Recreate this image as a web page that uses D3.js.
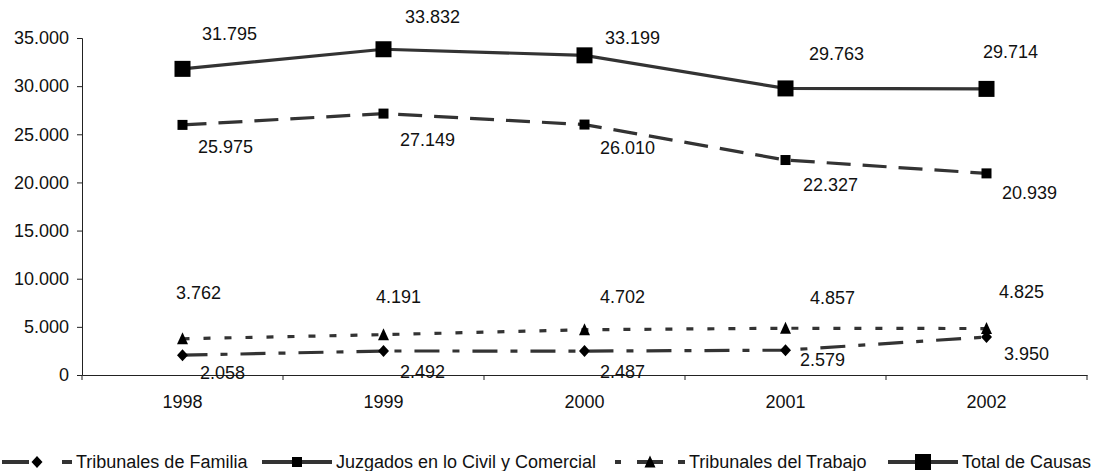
<!DOCTYPE html>
<html><head><meta charset="utf-8">
<script src="https://cdn.jsdelivr.net/npm/d3@7"></script>
<style>body{margin:0;background:#fff}svg{display:block;font-family:"Liberation Sans",Arial,sans-serif}</style>
</head><body><svg id="c" width="1094" height="471"></svg>
<script>
// ---- data ----
const years = ["1998","1999","2000","2001","2002"];
const familia   = [2058, 2492, 2487, 2579, 3950];
const juzgados  = [25975, 27149, 26010, 22327, 20939];
const trabajo   = [3762, 4191, 4702, 4857, 4825];
const total     = [31795, 33832, 33199, 29763, 29714];
const seriesNames = ["Tribunales de Familia","Juzgados en lo Civil y Comercial","Tribunales del Trabajo","Total de Causas"];
const yTicks = [0,5000,10000,15000,20000,25000,30000,35000];

// ---- styling ----
const styles = [
  {values: familia,  dash:"25,13,7,13", marker:"diamond", size:11, legendDash:"27,33,10,100"},
  {values: juzgados, dash:"24,12", marker:"square", size:10, legendDash:null},
  {values: trabajo,  dash:"7,14", marker:"triangle", size:11, legendDash:"6,16,26,15,7,100"},
  {values: total,    dash:null, marker:"square", size:16, legendDash:null}
];
// label offsets (dx, dy) relative to each point
const labelOffsets = [
  [[40,18],[39,21],[38,21],[37,10],[40,17]],
  [[43,22],[44,26],[43,23],[45,25],[43,19]],
  [[16,-46],[15,-38],[38,-33],[47,-31],[35,-37]],
  [[47,-35],[49,-33],[48,-18],[51,-35],[24,-37]]
];
const legendX = [2, 262, 615, 888];

const fmt = v => d3.format(",")(v).replace(/,/g,".");
const svg = d3.select("#c");
const m = {l:82, r:1087, t:38, b:375};
const x = d3.scaleBand().domain(years).range([m.l, m.r]);
const y = d3.scaleLinear().domain([0,35000]).range([m.b, m.t]);
const col = "#333";

// axes
const ya = svg.append("g").attr("transform",`translate(${m.l},0)`)
  .call(d3.axisLeft(y).tickValues(yTicks).tickSize(5).tickPadding(8).tickFormat(fmt));
ya.select(".domain").attr("stroke","#222");
ya.selectAll(".tick line").attr("stroke","#222");
ya.selectAll("text").attr("font-size",18).attr("fill","#111").attr("font-family","Liberation Sans, Arial");

const xa = svg.append("g").attr("transform",`translate(0,${m.b})`)
  .call(d3.axisBottom(x).tickSize(0).tickPadding(20));
xa.select(".domain").attr("stroke","#222");
xa.selectAll("text").attr("font-size",18).attr("fill","#111").attr("font-family","Liberation Sans, Arial");
// band boundary ticks
svg.append("g").selectAll("line").data(years.map((d,i)=>i).concat([years.length]))
  .join("line")
  .attr("x1",i=> i<years.length ? x(years[i]) : x(years[years.length-1])+x.bandwidth())
  .attr("x2",i=> i<years.length ? x(years[i]) : x(years[years.length-1])+x.bandwidth())
  .attr("y1",m.b).attr("y2",m.b+5).attr("stroke","#222");

function drawMarker(g, type, s, cx, cy){
  if(type==="square"){
    g.append("rect").attr("x",cx-s/2).attr("y",cy-s/2).attr("width",s).attr("height",s).attr("fill","#000");
  } else if(type==="diamond"){
    const h=s/2;
    g.append("path").attr("d",`M${cx},${cy-h-0.5}L${cx+h},${cy}L${cx},${cy+h+0.5}L${cx-h},${cy}Z`).attr("fill","#000");
  } else {
    const h=s/2;
    g.append("path").attr("d",`M${cx},${cy-h-1}L${cx+h},${cy+h}L${cx-h},${cy+h}Z`).attr("fill","#000");
  }
}

const line = d3.line().x((d,i)=>x(years[i])+x.bandwidth()/2).y(d=>y(d));
styles.forEach((s,si)=>{
  const g = svg.append("g");
  g.append("path").datum(s.values).attr("d",line).attr("fill","none")
    .attr("stroke",col).attr("stroke-width",3.2)
    .attr("stroke-dasharray",s.dash);
  s.values.forEach((v,i)=>drawMarker(g,s.marker,s.size,x(years[i])+x.bandwidth()/2,y(v)));
});
// labels
styles.forEach((s,si)=>{
  svg.append("g").selectAll("text").data(s.values).join("text")
    .attr("x",(d,i)=>x(years[i])+x.bandwidth()/2+labelOffsets[si][i][0])
    .attr("y",(d,i)=>y(d)+labelOffsets[si][i][1])
    .attr("dy","0.35em").attr("text-anchor","middle")
    .attr("font-size",18).attr("fill","#111").text(fmt);
});

// legend
const lg = svg.append("g");
const ly = 462, sw = 70;
styles.forEach((s,si)=>{
  const lx = legendX[si];
  lg.append("line").attr("x1",lx).attr("x2",lx+sw).attr("y1",ly).attr("y2",ly)
    .attr("stroke",col).attr("stroke-width",4)
    .attr("stroke-dasharray", s.legendDash);
  drawMarker(lg,s.marker,s.size,lx+sw/2,ly);
  lg.append("text").attr("x",lx+sw+4).attr("y",ly).attr("dy","0.35em")
    .attr("font-size",18).attr("fill","#111").text(seriesNames[si]);
});
</script></body></html>
